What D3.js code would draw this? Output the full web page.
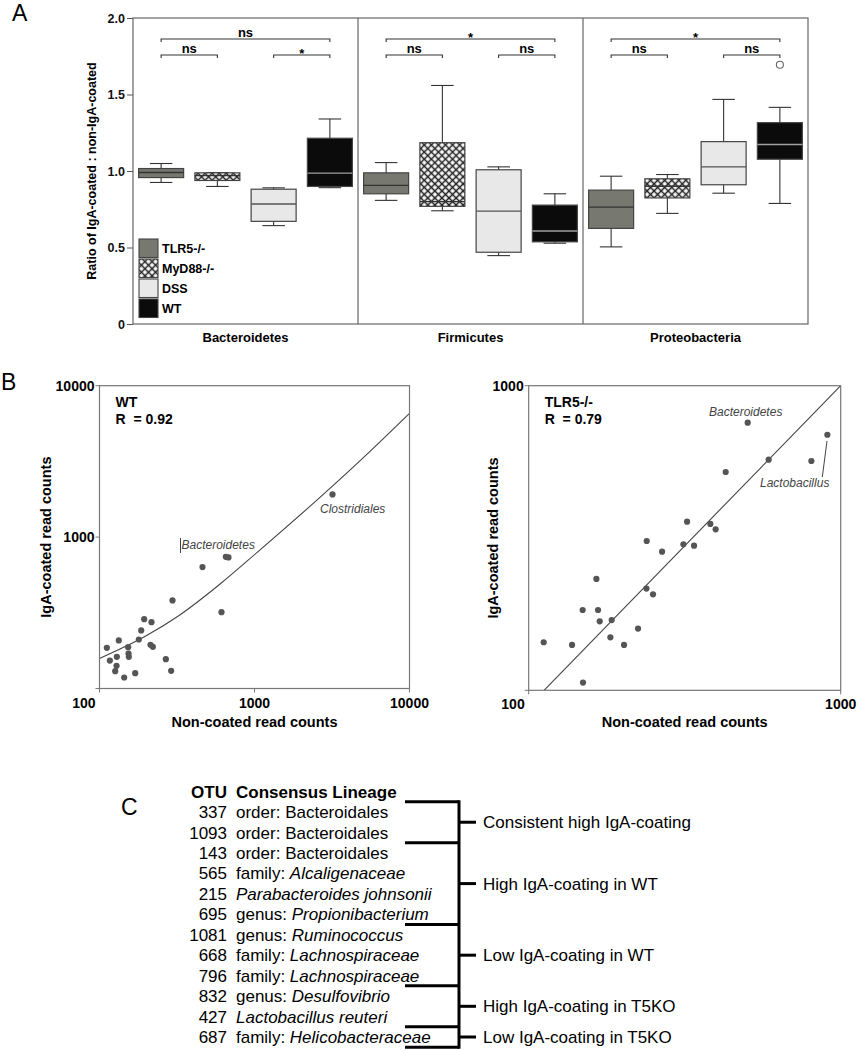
<!DOCTYPE html>
<html><head><meta charset="utf-8">
<script src="https://cdn.jsdelivr.net/npm/d3@7"></script>
<style>
body{margin:0;background:#fff;}
svg{display:block;font-family:"Liberation Sans",Arial,Helvetica,sans-serif;}
</style></head><body>
<svg id="chart" width="858" height="1050"></svg>
<script>
// ---------------- Panel A data ----------------
const groups = ["TLR5-/-", "MyD88-/-", "DSS", "WT"];
const phyla = ["Bacteroidetes", "Firmicutes", "Proteobacteria"];
// [lower whisker, Q1, median, Q3, upper whisker] for each group
const bacteroidetesStats = [[0.925,0.957,0.99,1.016,1.049],[0.899,0.938,0.97,0.988,0.99],[0.643,0.671,0.784,0.881,0.89],[0.891,0.899,0.986,1.214,1.34]];
const firmicutesStats = [[0.808,0.851,0.906,0.988,1.055],[0.74,0.769,0.80,1.185,1.559],[0.447,0.469,0.738,1.008,1.027],[0.528,0.537,0.608,0.777,0.851]];
const proteobacteriaStats = [[0.504,0.625,0.764,0.875,0.966],[0.723,0.824,0.90,0.949,0.977],[0.855,0.91,1.027,1.192,1.468],[0.788,1.077,1.173,1.316,1.416]];
const outlierPhylum = ["Proteobacteria"];
const outlierGroup = ["WT"];
const outlierValue = [1.694];
const sigPhylum = ["Bacteroidetes","Bacteroidetes","Bacteroidetes","Firmicutes","Firmicutes","Firmicutes","Proteobacteria","Proteobacteria","Proteobacteria"];
const sigFrom = ["TLR5-/-","TLR5-/-","DSS","TLR5-/-","TLR5-/-","DSS","TLR5-/-","TLR5-/-","DSS"];
const sigTo = ["WT","MyD88-/-","WT","WT","MyD88-/-","WT","WT","MyD88-/-","WT"];
const sigText = ["ns","ns","*","*","ns","ns","*","ns","ns"];
const sigTier = [0,1,1,0,1,1,0,1,1];
const yTicksA = [0, 0.5, 1.0, 1.5, 2.0];

// ---------------- Panel B data ----------------
const wtNonCoated = [111.5,116.6,126.3,128.8,129.4,133.2,144.3,153.1,153.9,154.6,169.9,179.4,185.8,194.2,213.3,216.5,220.9,267.9,290,295.8,461.8,612.4,653.1,679.4,3186];
const wtCoated = [185.7,153,130.1,141.2,161.9,207.6,118.2,187.6,170.3,161.9,126.3,210.7,241.7,287.2,194.3,274.3,188.5,156.2,130.8,381.5,633.6,319.4,741.3,734.2,1914];
const wtFitX = [100, 200, 328, 600, 1036, 2527, 5000, 10000];
const wtFitY = [158, 223, 305, 490, 790, 1756, 3327, 6572];
const tlrNonCoated = [111.7,137.7,148.9,149.3,164.8,166.8,168.9,182.7,184.5,202.1,224.1,238.4,238.9,250.3,267.6,313.2,321.8,338.8,382.1,397.4,427.9,503.4,587.7,805.4,906.3];
const tlrCoated = [143.8,140.9,183.5,106,232,183.5,168.4,149.3,170.1,140.9,159.4,215.7,309.1,206.6,285.2,301.5,357.8,298.5,351.6,337.6,520.9,756,571.6,566,690.3];
const tlrFitX = [112, 1000];
const tlrFitY = [100, 1000];
const wtTicks = [100, 1000, 10000];
const tlrTicks = [100, 1000];

// ---------------- Panel C data ----------------
const otuIds = ["337","1093","143","565","215","695","1081","668","796","832","427","687"];
const lineageRank = ["order: ","order: ","order: ","family: ","","genus: ","genus: ","family: ","family: ","genus: ","","family: "];
const lineageName = ["Bacteroidales","Bacteroidales","Bacteroidales","Alcaligenaceae","Parabacteroides johnsonii","Propionibacterium","Ruminococcus","Lachnospiraceae","Lachnospiraceae","Desulfovibrio","Lactobacillus reuteri","Helicobacteraceae"];
const lineageItalic = [false,false,false,true,true,true,true,true,true,true,true,true];
const clusterLabels = ["Consistent high IgA-coating","High IgA-coating in WT","Low IgA-coating in WT","High IgA-coating in T5KO","Low IgA-coating in T5KO"];
const clusterStart = [0,2,6,9,11];
const clusterEnd = [1,5,8,10,11];

// ================================================================
const svg = d3.select("#chart");
const defs = svg.append("defs");
const hatch = defs.append("pattern").attr("id","hatch").attr("patternUnits","userSpaceOnUse")
  .attr("width",5).attr("height",5).attr("patternTransform","rotate(45)");
hatch.append("rect").attr("width",5).attr("height",5).attr("fill","#fff");
hatch.append("path").attr("d","M0,2.5H5M2.5,0V5").attr("stroke","#222").attr("stroke-width",1.5);

const groupFill = {"TLR5-/-":"#777870","MyD88-/-":"url(#hatch)","DSS":"#e8e8e8","WT":"#0b0b0b"};
const medianColor = {"TLR5-/-":"#333330","MyD88-/-":"#333","DSS":"#555","WT":"#a0a0a0"};
const statsByPhylum = {Bacteroidetes: bacteroidetesStats, Firmicutes: firmicutesStats, Proteobacteria: proteobacteriaStats};

// Panel labels
svg.append("text").attr("x",12).attr("y",21).attr("font-size",23).text("A");
svg.append("text").attr("x",1).attr("y",390).attr("font-size",23).text("B");
svg.append("text").attr("x",121).attr("y",815).attr("font-size",23).text("C");

// ---------------- Panel A ----------------
const A = {left:133, right:808, top:18, bottom:324};
const yA = d3.scaleLinear().domain([0,2]).range([A.bottom, A.top]);
const facet = d3.scaleBand().domain(phyla).range([A.left, A.right]);
const inner = d3.scaleBand().domain(groups).range([0, facet.bandwidth()]).paddingInner(0.2).paddingOuter(0.1);
const gA = svg.append("g");

const axA = gA.append("g").attr("transform",`translate(${A.left},0)`)
  .call(d3.axisLeft(yA).tickValues(yTicksA).tickFormat(d => d === 0 ? "0" : d3.format(".1f")(d)).tickSize(6).tickSizeOuter(0).tickPadding(2));
axA.select(".domain").remove();
axA.selectAll("line").attr("stroke","#555");
axA.selectAll("text").attr("font-size",12.5).attr("font-weight","bold").attr("fill","#111");

gA.append("text").attr("transform",`translate(92,${(A.top+A.bottom)/2}) rotate(-90)`)
  .attr("text-anchor","middle").attr("dy","0.35em").attr("font-size",12.5).attr("font-weight","bold")
  .text("Ratio of IgA-coated : non-IgA-coated");

phyla.forEach(ph => {
  const x0 = facet(ph);
  const bw = inner.bandwidth();
  const g = gA.append("g");
  statsByPhylum[ph].forEach((s, i) => {
    const grp = groups[i];
    const cx = x0 + inner(grp) + bw/2;
    const [lo, q1, med, q3, hi] = s;
    g.append("line").attr("x1",cx).attr("x2",cx).attr("y1",yA(hi)).attr("y2",yA(lo)).attr("stroke","#333").attr("stroke-width",1.1);
    [lo, hi].forEach(v => g.append("line").attr("x1",cx-bw/4).attr("x2",cx+bw/4).attr("y1",yA(v)).attr("y2",yA(v)).attr("stroke","#333").attr("stroke-width",1.1));
    g.append("rect").attr("x",x0+inner(grp)).attr("width",bw).attr("y",yA(q3)).attr("height",yA(q1)-yA(q3))
      .attr("fill",groupFill[grp]).attr("stroke","#444").attr("stroke-width",1.2);
    g.append("line").attr("x1",x0+inner(grp)).attr("x2",x0+inner(grp)+bw).attr("y1",yA(med)).attr("y2",yA(med))
      .attr("stroke",medianColor[grp]).attr("stroke-width",1.4);
  });
  gA.append("text").attr("x",x0+facet.bandwidth()/2).attr("y",342).attr("text-anchor","middle")
    .attr("font-size",13).attr("font-weight","bold").text(ph);
});

outlierValue.forEach((v,i) => {
  gA.append("circle").attr("cx",facet(outlierPhylum[i])+inner(outlierGroup[i])+inner.bandwidth()/2).attr("cy",yA(v))
    .attr("r",3.5).attr("fill","#fff").attr("stroke","#666").attr("stroke-width",1.1);
});

const tierY = [39, 55];
sigText.forEach((t,i) => {
  const bw = inner.bandwidth();
  const xa = facet(sigPhylum[i]) + inner(sigFrom[i]) + bw/2;
  const xb = facet(sigPhylum[i]) + inner(sigTo[i]) + bw/2;
  const y = tierY[sigTier[i]];
  gA.append("path").attr("d",`M${xa},${y+3}V${y}H${xb}V${y+3}`).attr("fill","none").attr("stroke","#333").attr("stroke-width",1.1);
  gA.append("text").attr("x",(xa+xb)/2).attr("y", t === "*" ? y+2.5 : y-2).attr("text-anchor","middle")
    .attr("font-size",13).attr("font-weight","bold").text(t);
});

gA.append("rect").attr("x",A.left).attr("y",A.top).attr("width",A.right-A.left).attr("height",A.bottom-A.top)
  .attr("fill","none").attr("stroke","#666").attr("stroke-width",1.2);
phyla.slice(1).forEach(ph => gA.append("line").attr("x1",facet(ph)).attr("x2",facet(ph)).attr("y1",A.top).attr("y2",A.bottom)
  .attr("stroke","#666").attr("stroke-width",1.2));

groups.forEach((grp,i) => {
  const ly = 239 + i*20;
  gA.append("rect").attr("x",139).attr("y",ly).attr("width",19).attr("height",18.5)
    .attr("fill",groupFill[grp]).attr("stroke","#444").attr("stroke-width",1.1);
  gA.append("text").attr("x",162).attr("y",ly+9.5).attr("dy","0.36em").attr("font-size",12.5).attr("font-weight","bold").text(grp);
});

// ---------------- Panel B ----------------
function scatterPanel(o) {
  const g = svg.append("g");
  const x = d3.scaleLog().domain(o.domain).range([o.left, o.right]);
  const y = d3.scaleLog().domain(o.domain).range([o.bottom, o.top]);
  const pts = o.fitX.map((v,i) => [v, o.fitY[i]]);
  g.append("path").attr("d", d3.line().x(d => x(d[0])).y(d => y(d[1])).curve(d3.curveMonotoneX)(pts))
    .attr("fill","none").attr("stroke","#444").attr("stroke-width",1.1);
  g.selectAll("circle.pt").data(o.xs.map((v,i) => [v, o.ys[i]])).join("circle")
    .attr("cx", d => x(d[0])).attr("cy", d => y(d[1])).attr("r",3.1).attr("fill","#555");
  g.append("rect").attr("x",o.left).attr("y",o.top).attr("width",o.right-o.left).attr("height",o.bottom-o.top)
    .attr("fill","none").attr("stroke","#777").attr("stroke-width",1.2);
  o.ticks.forEach(t => {
    g.append("line").attr("x1",x(t)).attr("x2",x(t)).attr("y1",o.bottom).attr("y2",o.bottom+4).attr("stroke","#777");
    g.append("line").attr("x1",o.left-4).attr("x2",o.left).attr("y1",y(t)).attr("y2",y(t)).attr("stroke","#777");
    if (t !== o.domain[0]) {
      g.append("text").attr("x",o.left-5).attr("y",y(t)).attr("dy","0.36em").attr("text-anchor","end")
        .attr("font-size",14).attr("font-weight","bold").text(t);
      g.append("text").attr("x",x(t)).attr("y",o.bottom+14).attr("dy","0.36em").attr("text-anchor","middle")
        .attr("font-size",14).attr("font-weight","bold").text(t);
    } else {
      g.append("text").attr("x",o.left-4).attr("y",o.bottom+14).attr("dy","0.36em").attr("text-anchor","end")
        .attr("font-size",14).attr("font-weight","bold").text(t);
    }
  });
  g.append("text").attr("x",(o.left+o.right)/2).attr("y",727).attr("text-anchor","middle")
    .attr("font-size",14.5).attr("font-weight","bold").text("Non-coated read counts");
  g.append("text").attr("transform",`translate(${o.ytitleX},${(o.top+o.bottom)/2}) rotate(-90)`)
    .attr("text-anchor","middle").attr("dy","0.36em").attr("font-size",14.5).attr("font-weight","bold").text("IgA-coated read counts");
  g.append("text").attr("x",o.left+16).attr("y",407).attr("font-size",14).attr("font-weight","bold").text(o.name);
  g.append("text").attr("x",o.left+16).attr("y",424).attr("font-size",14).attr("font-weight","bold")
    .style("white-space","pre").text(o.rText);
  return g;
}

const gL = scatterPanel({left:99.5, right:409.5, top:385.7, bottom:688.5, domain:[100,10000], ticks:wtTicks,
  xs:wtNonCoated, ys:wtCoated, fitX:wtFitX, fitY:wtFitY, ytitleX:46, name:"WT", rText:"R  = 0.92"});
gL.append("line").attr("x1",180.5).attr("x2",180.5).attr("y1",538).attr("y2",553).attr("stroke","#444");
gL.append("text").attr("x",181.5).attr("y",549).attr("font-size",12).attr("font-style","italic").attr("fill","#444").text("Bacteroidetes");
gL.append("text").attr("x",320).attr("y",512.5).attr("font-size",12).attr("font-style","italic").attr("fill","#444").text("Clostridiales");

const gR = scatterPanel({left:528.7, right:840.7, top:385.7, bottom:690.3, domain:[100,1000], ticks:tlrTicks,
  xs:tlrNonCoated, ys:tlrCoated, fitX:tlrFitX, fitY:tlrFitY, ytitleX:493, name:"TLR5-/-", rText:"R  = 0.79"});
gR.append("text").attr("x",709).attr("y",416).attr("font-size",12).attr("font-style","italic").attr("fill","#444").text("Bacteroidetes");
gR.append("text").attr("x",760).attr("y",487).attr("font-size",12).attr("font-style","italic").attr("fill","#444").text("Lactobacillus");
gR.append("line").attr("x1",827).attr("y1",441).attr("x2",822.3).attr("y2",477).attr("stroke","#444");

// ---------------- Panel C ----------------
const rowY = d3.scaleLinear().domain([0, otuIds.length-1]).range([812, 1037]);
const halfRow = (rowY(1)-rowY(0))/2;
const gC = svg.append("g").attr("font-size",17);
gC.append("text").attr("x",227).attr("y",792).attr("dy","0.36em").attr("text-anchor","end").attr("font-weight","bold").text("OTU");
gC.append("text").attr("x",236).attr("y",792).attr("dy","0.36em").attr("font-weight","bold").text("Consensus Lineage");
otuIds.forEach((id,i) => {
  gC.append("text").attr("x",227).attr("y",rowY(i)).attr("dy","0.36em").attr("text-anchor","end").text(id);
  const t = gC.append("text").attr("x",236).attr("y",rowY(i)).attr("dy","0.36em");
  if (lineageRank[i]) t.append("tspan").text(lineageRank[i]);
  t.append("tspan").attr("font-style", lineageItalic[i] ? "italic" : "normal").text(lineageName[i]);
});
const brX0 = 405, brX1 = 459, brX2 = 476;
const firstTop = rowY(clusterStart[0]) - halfRow;
const lastBottom = rowY(clusterEnd[clusterEnd.length-1]) + halfRow;
gC.append("line").attr("x1",brX1).attr("x2",brX1).attr("y1",firstTop-1.5).attr("y2",lastBottom+1.5).attr("stroke","#000").attr("stroke-width",3);
clusterLabels.forEach((lab,i) => {
  const top = rowY(clusterStart[i]) - halfRow;
  const bot = rowY(clusterEnd[i]) + halfRow;
  const mid = (top+bot)/2;
  gC.append("line").attr("x1",brX0).attr("x2",brX1).attr("y1",top).attr("y2",top).attr("stroke","#000").attr("stroke-width",3);
  if (i === clusterLabels.length-1)
    gC.append("line").attr("x1",brX0).attr("x2",brX1).attr("y1",bot).attr("y2",bot).attr("stroke","#000").attr("stroke-width",3);
  gC.append("line").attr("x1",brX1).attr("x2",brX2).attr("y1",mid).attr("y2",mid).attr("stroke","#000").attr("stroke-width",3);
  gC.append("text").attr("x",483).attr("y",mid).attr("dy","0.36em").text(lab);
});
</script>
</body></html>
